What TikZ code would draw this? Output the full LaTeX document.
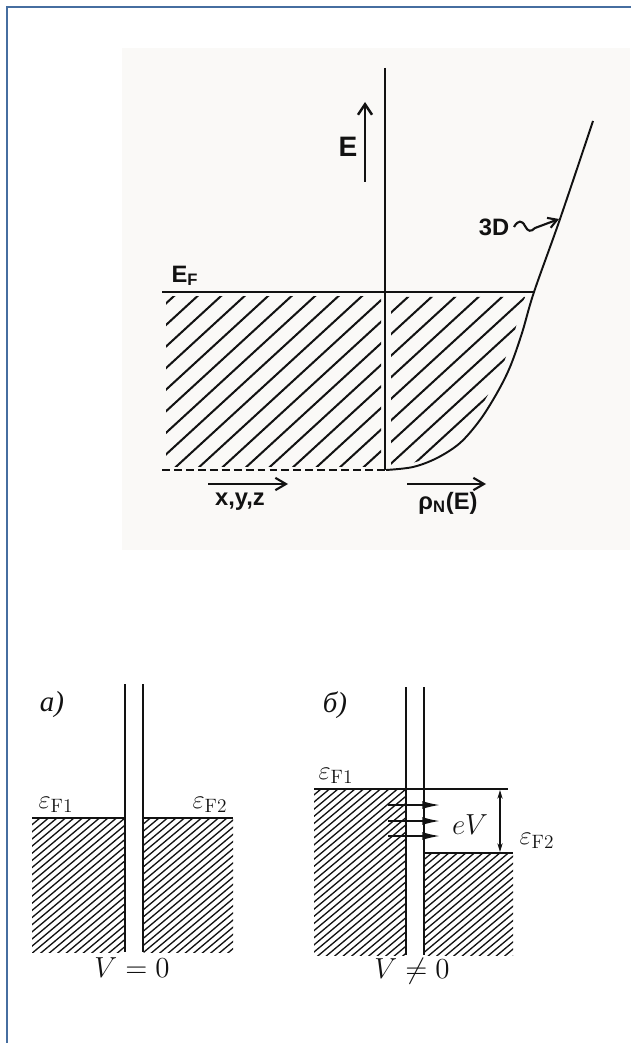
\RequirePackage{fix-cm}
\documentclass[tikz,border=0pt]{standalone}
\usepackage{fontspec}
\usepackage{amsmath}
\usetikzlibrary{arrows.meta}
\newfontfamily\handfont{Liberation Sans}
\newfontfamily\cyrfont{Liberation Serif}
\definecolor{framecol}{RGB}{70,110,160}
\definecolor{papercol}{RGB}{250,249,247}
\definecolor{inkcol}{RGB}{18,18,18}
\tikzset{
  hatchtop/.style={inkcol, line width=1.15pt, line cap=round},
  hatchbot/.style={inkcol, line width=0.75pt},
  level/.style={inkcol, line width=1.1pt},
  handlabel/.style={inkcol, inner sep=0pt, font=\handfont\bfseries\fontsize{13.5}{15}\selectfont},
  handbig/.style={inkcol, inner sep=0pt, font=\handfont\bfseries\fontsize{16}{18}\selectfont},
  mathlabel/.style={inkcol, inner sep=0pt, font=\fontsize{15}{17}\selectfont},
  mathbig/.style={inkcol, inner sep=0pt, font=\fontsize{16.5}{19}\selectfont}
}

\begin{document}
\begin{tikzpicture}[
    x=0.02cm, y=-0.02cm,
    >=Latex,
    line width=1pt
  ]
  \useasboundingbox (0,0) rectangle (630,1043);

  % --- page frame and the grey scanned sheet ------------------------------
  \draw[framecol, line width=1.6pt] (7,7) rectangle (700,1100);
  \fill[papercol] (122,48) rectangle (630,550);

  % --- top: coordinates ----------------------------------------------------
  \coordinate (AxisTop) at (385,68);
  \coordinate (AxisBot) at (385,470);
  \coordinate (EFLeft) at (162,292);
  \coordinate (EFRight) at (534,292);
  \coordinate (DashLeft) at (162,470);

  % --- hatching below the Fermi level, left half ---------------------------
  \begin{scope}
    \clip (166,297) rectangle (381,466);
    \foreach \c in {-39,-15.5,...,540}
      \draw[hatchtop] (\c,470) -- ++(207,-190);
  \end{scope}

  % --- hatching under the density of states, stopping short of the curve ---
  \begin{scope}
    \clip (391,297) -- plot[smooth] coordinates {(525,297) (514,333) (502,367)
      (489,393) (472,420) (452,443) (428,458) (400,466)} -- (391,466) -- cycle;
    \foreach \c in {-39,-15.5,...,540}
      \draw[hatchtop] (\c,470) -- ++(207,-190);
  \end{scope}

  % --- axis, Fermi level, band bottom ---------------------------------------
  \draw[level] (AxisTop) -- (AxisBot);
  \draw[level] (EFLeft) -- (EFRight);
  \draw[level, dash pattern=on 4.5pt off 2.3pt] (DashLeft) -- (AxisBot);
  \node[handlabel] (LblEF) at (185,276) {E\textsubscript{F}};

  % --- 3D density of states --------------------------------------------------
  \draw[level] plot[smooth, tension=0.55] coordinates {(386,470) (413,467)
    (437,458) (460,443) (480,420) (497,393) (510,367) (522,333) (534,292)
    (560,219) (593,121)};
  \node[handlabel] (Lbl3D) at (494,227) {3D};
  \coordinate (SquigStart) at (514,227);
  \coordinate (SquigEnd) at (559,219);
  \draw[inkcol, line width=1.2pt, -{Straight Barb[length=5pt,width=6pt]}]
    (SquigStart) .. controls (518,220) and (522,220) .. (525,226)
    .. controls (528,232) and (531,232) .. (535,228) -- (SquigEnd);

  % --- energy arrow ------------------------------------------------------------
  \coordinate (ETail) at (365,182);
  \coordinate (EHead) at (365,102);
  \draw[inkcol, line width=1.4pt, -{Straight Barb[length=6pt,width=8pt]}] (ETail) -- (EHead);
  \node[handbig] (LblE) at (348,147) {E};

  % --- arrows under the axes ---------------------------------------------------
  \coordinate (XTail) at (208,484);
  \coordinate (XHead) at (288,484);
  \draw[inkcol, line width=1.2pt, -{Straight Barb[length=6pt,width=7pt]}] (XTail) -- (XHead);
  \node[handlabel] (LblXYZ) at (240,502) {x,y,z};
  \coordinate (RhoTail) at (407,484);
  \coordinate (RhoHead) at (486,484);
  \draw[inkcol, line width=1.2pt, -{Straight Barb[length=6pt,width=7pt]}] (RhoTail) -- (RhoHead);
  \node[handlabel] (LblRho) at (448,503) {ρ\textsubscript{N}(E)};

  % --- bottom (а): no bias, hatched metals -------------------------------------
  \begin{scope}
    \clip (32,818) rectangle (124.5,952);
    \foreach \c in {-180,-171.5,...,540}
      \draw[hatchbot] (\c,960) -- ++(238,-200);
  \end{scope}
  \begin{scope}
    \clip (143.5,818) rectangle (233,952);
    \foreach \c in {-180,-171.5,...,540}
      \draw[hatchbot] (\c,960) -- ++(238,-200);
  \end{scope}
  \coordinate (BarALTop) at (125,684);
  \coordinate (BarALBot) at (125,952);
  \coordinate (BarARTop) at (143,684);
  \coordinate (BarARBot) at (143,952);
  \draw[level] (BarALTop) -- (BarALBot);
  \draw[level] (BarARTop) -- (BarARBot);
  \coordinate (FermiAL) at (32,818);
  \coordinate (FermiAR) at (233,818);
  \draw[level] (FermiAL) -- (BarALBot |- FermiAL);
  \draw[level] (BarARBot |- FermiAR) -- (FermiAR);
  \node[mathbig] (LblA) at (52,705) {\cyrfont\itshape а)};
  \node[mathlabel] (LblEFa1) at (56,805) {$\varepsilon_{\text{\fontsize{11}{13}\selectfont F1}}$};
  \node[mathlabel] (LblEFa2) at (210,805) {$\varepsilon_{\text{\fontsize{11}{13}\selectfont F2}}$};
  \node[mathbig] (LblVa) at (132,968) {$V=0$};

  % --- bottom (б): bias applied ------------------------------------------------
  \begin{scope}
    \clip (314,789) rectangle (405.5,955);
    \foreach \c in {-180,-171.5,...,540}
      \draw[hatchbot] (\c,960) -- ++(238,-200);
  \end{scope}
  \begin{scope}
    \clip (424.5,853) rectangle (513,955);
    \foreach \c in {-180,-171.5,...,540}
      \draw[hatchbot] (\c,960) -- ++(238,-200);
  \end{scope}
  \coordinate (BarBLTop) at (406,687);
  \coordinate (BarBLBot) at (406,955);
  \coordinate (BarBRTop) at (424,687);
  \coordinate (BarBRBot) at (424,955);
  \draw[level] (BarBLTop) -- (BarBLBot);
  \draw[level] (BarBRTop) -- (BarBRBot);
  \coordinate (FermiBL) at (314,789);
  \coordinate (FermiBLEnd) at (508,789);
  \coordinate (FermiBR) at (424,853);
  \coordinate (FermiBREnd) at (513,853);
  \draw[level] (FermiBL) -- (FermiBLEnd);
  \draw[level] (FermiBR) -- (FermiBREnd);

  % tunnelling electrons
  \foreach \y/\n in {805/1,821/2,836/3} {
    \coordinate (TunTail\n) at (388,\y);
    \coordinate (TunHead\n) at (440,\y);
    \draw[inkcol, line width=1pt, -{Latex[length=10pt,width=4.5pt]}] (TunTail\n) -- (TunHead\n);
  }

  % eV gap
  \coordinate (GapTop) at (500,790);
  \coordinate (GapBot) at (500,852);
  \draw[inkcol, line width=0.7pt, {Stealth[length=5pt,width=3pt]}-{Stealth[length=5pt,width=3pt]}] (GapTop) -- (GapBot);
  \node[mathbig] (LblEV) at (470,825) {$eV$};

  \node[mathbig] (LblB) at (335,705) {\cyrfont\itshape б)};
  \node[mathlabel] (LblEFb1) at (336,776) {$\varepsilon_{\text{\fontsize{11}{13}\selectfont F1}}$};
  \node[mathlabel] (LblEFb2) at (537,841) {$\varepsilon_{\text{\fontsize{11}{13}\selectfont F2}}$};
  \node[mathbig] (LblVb) at (412,971) {$V\neq0$};

\end{tikzpicture}
\end{document}
